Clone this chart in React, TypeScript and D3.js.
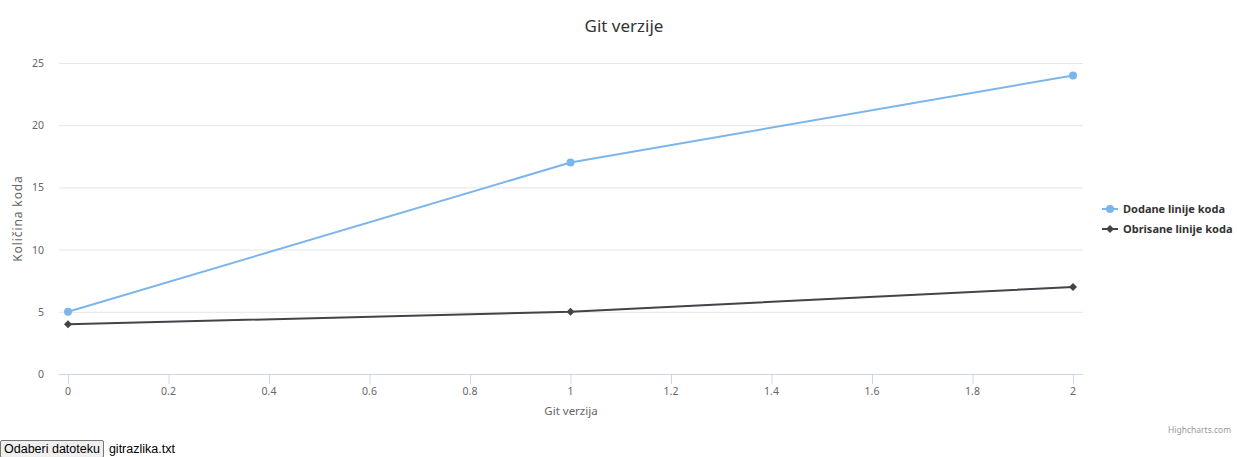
import { useMemo } from 'react'
import * as d3 from 'd3'

const VERSIONS = [0, 1, 2]
const ADDED = [5, 17, 24]
const REMOVED = [4, 5, 7]
const SERIES_NAMES = ['Dodane linije koda', 'Obrisane linije koda']
const SERIES_COLORS = ['#7cb5ec', '#434348']
const Y_TICKS = [0, 5, 10, 15, 20, 25]
const X_TICKS = [0, 0.2, 0.4, 0.6, 0.8, 1, 1.2, 1.4, 1.6, 1.8, 2]

const FONT = '"Noto Sans", "DejaVu Sans", Arial, sans-serif'
const W = 1237
const H = 437
const plot = { left: 59, right: 1083, top: 63, bottom: 374 }

export default function App() {
  const x = useMemo(() => d3.scaleLinear().domain([0, 2]).range([68, 1073]), [])
  const y = useMemo(() => d3.scaleLinear().domain([0, 25]).range([plot.bottom, plot.top]), [])

  const series = [ADDED, REMOVED].map((vals, i) => ({
    name: SERIES_NAMES[i],
    color: SERIES_COLORS[i],
    points: vals.map((v, j) => [VERSIONS[j], v] as [number, number]),
  }))

  const line = d3.line<[number, number]>().x((d) => x(d[0])).y((d) => y(d[1]))
  const diamond = (cx: number, cy: number, r: number) =>
    `M${cx},${cy - r}L${cx + r},${cy}L${cx},${cy + r}L${cx - r},${cy}Z`

  return (
    <div style={{ position: 'absolute', left: 0, top: 0, width: 1237, height: 457, overflow: 'hidden' }}>
      <svg width={W} height={H} style={{ display: 'block', fontFamily: FONT }}>
        <rect width={W} height={H} fill="#fff" />
        <text x={624} y={32} textAnchor="middle" fontSize={17} fill="#333333">
          Git verzije
        </text>

        {/* y grid + labels */}
        {Y_TICKS.map((t) => (
          <g key={t}>
            {t > 0 && (
              <line x1={plot.left} x2={plot.right} y1={y(t) + 0.5} y2={y(t) + 0.5} stroke="#e6e6e6" />
            )}
            <text x={44} y={y(t) + 4} textAnchor="end" fontSize={10.5} fill="#666666">
              {t}
            </text>
          </g>
        ))}

        <text
          transform={`translate(22,${(plot.top + plot.bottom) / 2}) rotate(-90)`}
          textAnchor="middle"
          fontSize={12}
          letterSpacing={0.9}
          fill="#666666"
        >
          Količina koda
        </text>

        {/* x axis */}
        <line x1={plot.left} x2={plot.right} y1={plot.bottom + 0.5} y2={plot.bottom + 0.5} stroke="#ccd6eb" />
        {X_TICKS.map((t) => (
          <g key={t}>
            <line x1={x(t) + 0.5} x2={x(t) + 0.5} y1={plot.bottom} y2={plot.bottom + 10} stroke="#ccd6eb" />
            <text x={x(t)} y={395} textAnchor="middle" fontSize={10.5} fill="#666666">
              {t}
            </text>
          </g>
        ))}
        <text x={571} y={415} textAnchor="middle" fontSize={11.5} fill="#666666">
          Git verzija
        </text>

        {/* series */}
        {series.map((s, i) => (
          <g key={s.name}>
            <path d={line(s.points) ?? ''} fill="none" stroke={s.color} strokeWidth={2} strokeLinejoin="round" />
            {s.points.map((p, j) =>
              i === 0 ? (
                <circle key={j} cx={x(p[0])} cy={y(p[1])} r={4} fill={s.color} />
              ) : (
                <path key={j} d={diamond(x(p[0]), y(p[1]), 4)} fill={s.color} />
              ),
            )}
          </g>
        ))}

        {/* legend */}
        {series.map((s, i) => {
          const ly = 209 + i * 20
          return (
            <g key={s.name}>
              <line x1={1102} x2={1118} y1={ly} y2={ly} stroke={s.color} strokeWidth={2} />
              {i === 0 ? (
                <circle cx={1110} cy={ly} r={4} fill={s.color} />
              ) : (
                <path d={diamond(1110, ly, 4)} fill={s.color} />
              )}
              <text x={1123} y={ly + 4} fontSize={11} fontWeight="bold" fill="#333333">
                {s.name}
              </text>
            </g>
          )
        })}

        <text x={1168} y={433} fontSize={8.5} fill="#999999">
          Highcharts.com
        </text>
      </svg>
      <div
        style={{
          display: 'flex',
          alignItems: 'flex-start',
          height: 20,
          paddingTop: 3,
          fontFamily: '"Liberation Sans", Arial, sans-serif',
          fontSize: 12.5,
        }}
      >
        <span
          style={{
            display: 'inline-block',
            background: '#efefef',
            border: '1px solid #767676',
            borderRadius: 2,
            padding: '0 3px',
            lineHeight: '16px',
            color: '#000',
          }}
        >
          Odaberi datoteku
        </span>
        <span style={{ marginLeft: 5, lineHeight: '18px' }}>gitrazlika.txt</span>
      </div>
    </div>
  )
}
